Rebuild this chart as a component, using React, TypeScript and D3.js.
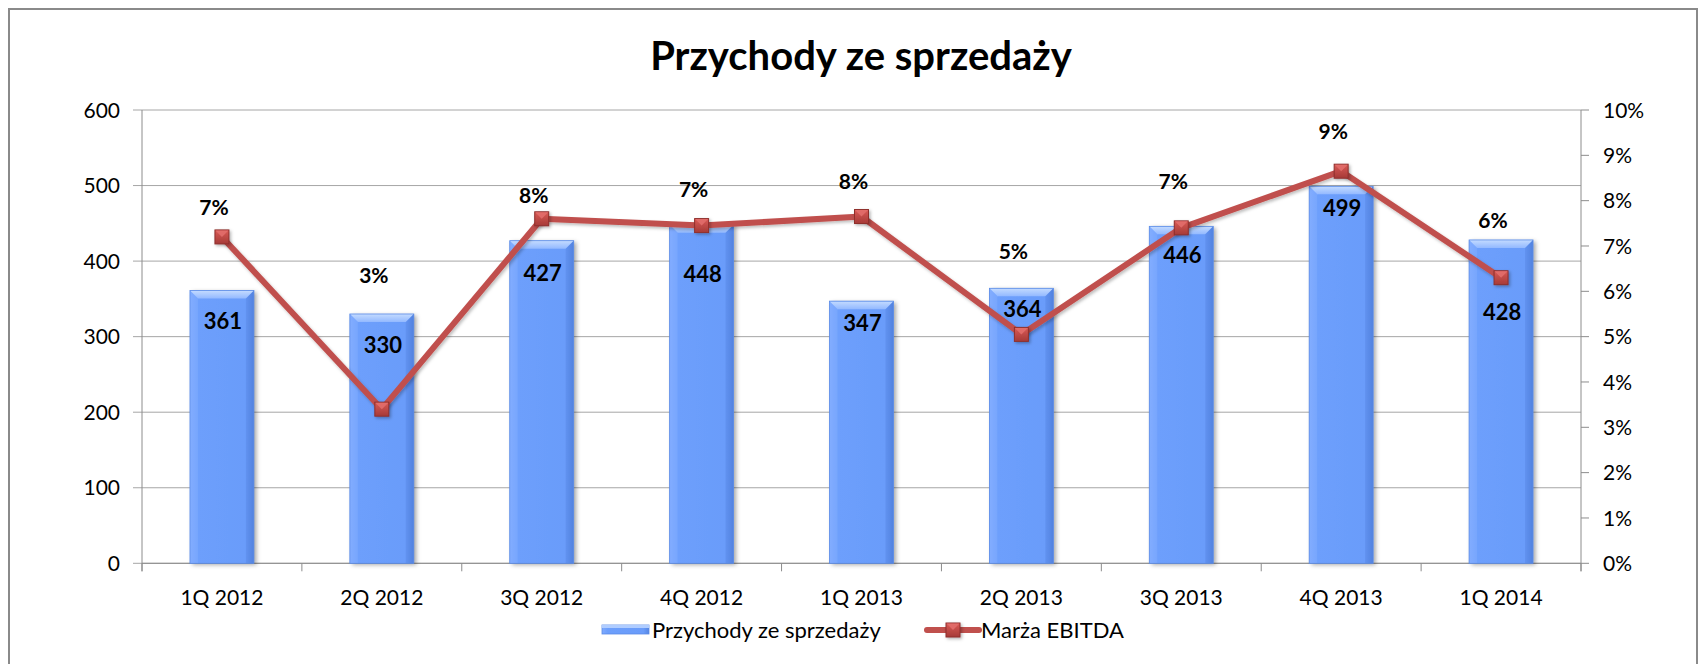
import React from "react";
import * as d3 from "d3";

const categories = ["1Q 2012", "2Q 2012", "3Q 2012", "4Q 2012", "1Q 2013", "2Q 2013", "3Q 2013", "4Q 2013", "1Q 2014"];
const revenue = [361, 330, 427, 448, 347, 364, 446, 499, 428];
const ebitdaMargin = [0.072, 0.034, 0.076, 0.0745, 0.0765, 0.0505, 0.074, 0.0865, 0.063];
const leftTicks = [0, 100, 200, 300, 400, 500, 600];
const rightTicks = [0, 0.01, 0.02, 0.03, 0.04, 0.05, 0.06, 0.07, 0.08, 0.09, 0.1];
const title = "Przychody ze sprzedaży";
const legendLabels = ["Przychody ze sprzedaży", "Marża EBITDA"];

// layout (manually placed data labels, px offsets)
const barLabelDy = [31, 31, 32, 49, 22, 21, 29, 22, 72];
const pctLabelDy = [-29, -134, -23, -36, -35, -83, -46, -40, -57];

const W = 1706;
const H = 664;
const left = 142;
const right = 1581;
const top = 110;
const bottom = 563.3;
const FONT = "Lato, 'Open Sans', sans-serif";

export default function App() {
  const x = d3.scaleBand<string>().domain(categories).range([left, right]).paddingInner(0.6).paddingOuter(0.3);
  const yL = d3.scaleLinear().domain([0, 600]).range([bottom, top]);
  const yR = d3.scaleLinear().domain([0, 0.1]).range([bottom, top]);
  const bw = x.bandwidth();
  const cx = (c: string) => (x(c) as number) + bw / 2;
  const fmtPct = d3.format(".0%");
  const line = d3
    .line<number>()
    .x((_, i) => cx(categories[i]))
    .y((d) => yR(d));
  const boundaries = d3.range(categories.length + 1).map((i) => left + i * (right - left) / categories.length);
  const grid = "#a6a6a6";
  const axisC = "#8c8c8c";
  const bev = 8;

  const marker = (mx: number, my: number, key: string) => (
    <g key={key} filter="url(#mshadow)">
      <rect x={mx - 7} y={my - 7} width={14} height={14} fill="url(#mgrad)" stroke="#8e2f2c" strokeWidth={1} />
      <polygon points={`${mx - 6.5},${my - 6.5} ${mx + 6.5},${my - 6.5} ${mx},${my}`} fill="#e3706c" opacity={0.85} />
    </g>
  );

  return (
    <svg width={W} height={H} style={{ position: "absolute", left: 0, top: 0, display: "block" }} fontFamily={FONT}>
      <defs>
        <linearGradient id="barH" x1="0" x2="1" y1="0" y2="0">
          <stop offset="0" stopColor="#80abff" />
          <stop offset="0.12" stopColor="#6d9ffc" />
          <stop offset="0.88" stopColor="#6a9cfa" />
          <stop offset="1" stopColor="#5586e3" />
        </linearGradient>
        <linearGradient id="barTop" x1="0" x2="0" y1="0" y2="1">
          <stop offset="0" stopColor="#c4dbff" />
          <stop offset="1" stopColor="#93b9ff" />
        </linearGradient>
        <linearGradient id="mgrad" x1="0" x2="0" y1="0" y2="1">
          <stop offset="0" stopColor="#d95a56" />
          <stop offset="1" stopColor="#a63a37" />
        </linearGradient>
        <filter id="shadow" x="-20%" y="-5%" width="140%" height="110%">
          <feDropShadow dx="2.5" dy="1.5" stdDeviation="2" floodColor="#000" floodOpacity="0.35" />
        </filter>
        <filter id="mshadow" x="-50%" y="-50%" width="200%" height="200%">
          <feDropShadow dx="1.5" dy="1.5" stdDeviation="1.5" floodColor="#000" floodOpacity="0.3" />
        </filter>
        <filter id="lshadow" x="-5%" y="-20%" width="110%" height="140%">
          <feDropShadow dx="1.5" dy="2" stdDeviation="1.5" floodColor="#000" floodOpacity="0.25" />
        </filter>
      </defs>

      <rect x={0} y={0} width={W} height={H} fill="#fff" />
      <rect x={9} y={9} width={1688} height={670} fill="none" stroke="#8a8a8a" strokeWidth={2} />

      <text x={861} y={70} textAnchor="middle" fontSize={40} fontWeight={700} fill="#000">
        {title}
      </text>

      {/* gridlines */}
      {leftTicks.map((t) => (
        <line key={"g" + t} x1={left - 9} x2={right} y1={yL(t)} y2={yL(t)} stroke={grid} strokeWidth={1} />
      ))}
      {/* left axis */}
      <line x1={left} x2={left} y1={top} y2={bottom + 8} stroke={axisC} strokeWidth={1} />
      {leftTicks.map((t) => (
        <text key={"lt" + t} x={120} y={yL(t)} dy="0.36em" textAnchor="end" fontSize={21} fill="#000">
          {t}
        </text>
      ))}
      {/* right axis */}
      <line x1={right} x2={right} y1={top} y2={bottom + 8} stroke={axisC} strokeWidth={1} />
      {rightTicks.map((t) => (
        <g key={"rt" + t}>
          <line x1={right} x2={right + 8} y1={yR(t)} y2={yR(t)} stroke={axisC} strokeWidth={1} />
          <text x={1603} y={yR(t)} dy="0.36em" textAnchor="start" fontSize={21} fill="#000">
            {fmtPct(t)}
          </text>
        </g>
      ))}
      {/* bottom axis */}
      <line x1={left} x2={right} y1={bottom} y2={bottom} stroke={axisC} strokeWidth={1} />
      {boundaries.map((b, i) => (
        <line key={"bt" + i} x1={b} x2={b} y1={bottom} y2={bottom + 8} stroke={axisC} strokeWidth={1} />
      ))}
      {categories.map((c) => (
        <text key={"xl" + c} x={cx(c)} y={605} textAnchor="middle" fontSize={21} fill="#000">
          {c}
        </text>
      ))}

      {/* bars */}
      {revenue.map((v, i) => {
        const c = categories[i];
        const x0 = x(c) as number;
        const x1 = x0 + bw;
        const y0 = yL(v);
        return (
          <g key={"bar" + i}>
            <rect x={x0} y={y0} width={bw} height={bottom - y0} fill="url(#barH)" filter="url(#shadow)" />
            <polygon points={`${x0},${y0} ${x1},${y0} ${x1 - bev},${y0 + bev} ${x0 + bev},${y0 + bev}`} fill="url(#barTop)" />
            <polygon points={`${x0},${y0} ${x0 + bev},${y0 + bev} ${x0 + bev},${bottom} ${x0},${bottom}`} fill="#86b0ff" opacity={0.45} />
            <polygon points={`${x1},${y0} ${x1 - bev},${y0 + bev} ${x1 - bev},${bottom} ${x1},${bottom}`} fill="#4b7ad6" opacity={0.3} />
            <rect x={x0} y={y0} width={bw} height={bottom - y0} fill="none" stroke="#5a8be6" strokeWidth={0.8} />
          </g>
        );
      })}

      {/* line series */}
      <path d={line(ebitdaMargin) || ""} fill="none" stroke="#c0504d" strokeWidth={6} strokeLinejoin="round" filter="url(#lshadow)" />
      {ebitdaMargin.map((v, i) => marker(cx(categories[i]), yR(v), "m" + i))}

      {/* data labels */}
      {revenue.map((v, i) => (
        <text key={"bl" + i} x={cx(categories[i]) + 1} y={yL(v) + barLabelDy[i]} dy="0.36em" textAnchor="middle" fontSize={22} fontWeight={700} fill="#000">
          {v}
        </text>
      ))}
      {ebitdaMargin.map((v, i) => (
        <text key={"pl" + i} x={cx(categories[i]) - 8} y={yR(v) + pctLabelDy[i]} dy="0.36em" textAnchor="middle" fontSize={21} fontWeight={700} fill="#000">
          {fmtPct(v)}
        </text>
      ))}

      {/* legend */}
      <g>
        <rect x={602} y={625} width={47} height={9} fill="url(#barH)" stroke="#5a8be6" strokeWidth={0.8} />
        <rect x={602} y={625} width={47} height={3} fill="#b0cdff" />
        <text x={652} y={630} dy="0.36em" fontSize={22} fill="#000">
          {legendLabels[0]}
        </text>
        <line x1={927} x2={979} y1={630} y2={630} stroke="#c0504d" strokeWidth={6} strokeLinecap="round" />
        {marker(953, 630, "legm")}
        <text x={981} y={630} dy="0.36em" fontSize={22} fill="#000">
          {legendLabels[1]}
        </text>
      </g>
    </svg>
  );
}
